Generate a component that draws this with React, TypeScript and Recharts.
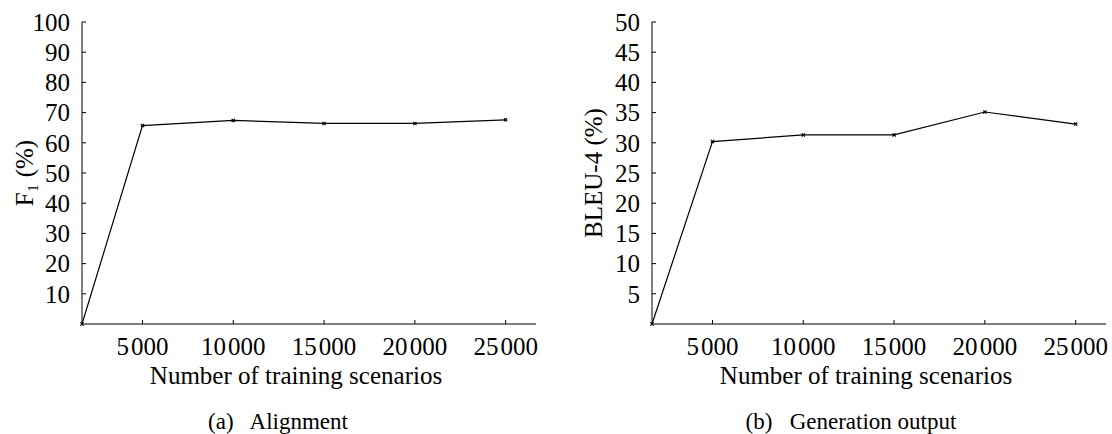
import React from 'react';
import { LineChart, Line, XAxis, YAxis } from 'recharts';

// training set sizes; first run sits right at the left end of the axis
const trainingSizes = [1670, 5000, 10000, 15000, 20000, 25000];
const alignmentF1 = [0, 65.7, 67.4, 66.4, 66.4, 67.6];
const generationBleu4 = [0, 30.2, 31.3, 31.3, 35.1, 33.1];

const xTicks = [5000, 10000, 15000, 20000, 25000];
const f1Ticks = [10, 20, 30, 40, 50, 60, 70, 80, 90, 100];
const bleuTicks = [5, 10, 15, 20, 25, 30, 35, 40, 45, 50];
const xDomain = [1670, 26670];

const FONT = '"Liberation Serif", "Times New Roman", serif';

const alignmentData = trainingSizes.map((n, i) => ({ n, value: alignmentF1[i] }));
const generationData = trainingSizes.map((n, i) => ({ n, value: generationBleu4[i] }));

// hair-space thousands separator like siunitx
const fmtThousands = (v: number) => String(v).replace(/\B(?=(\d{3})+(?!\d))/g, '\u200A');

const Cross = (props: any) => {
  const { cx, cy } = props;
  if (cx == null || cy == null) return null;
  const s = 1.6;
  return (
    <path
      d={`M${cx - s},${cy - s}L${cx + s},${cy + s}M${cx - s},${cy + s}L${cx + s},${cy - s}`}
      stroke="#000"
      strokeWidth={1.2}
    />
  );
};

const tickStyle = { fontSize: 25, fill: '#000', fontFamily: FONT };
const axisLine = { stroke: '#000', strokeWidth: 1 };

interface PanelProps {
  data: { n: number; value: number }[];
  yMax: number;
  yTicks: number[];
  yLabel: string;
  yAxisWidth: number;
  yLabelDx: number;
  rightMargin: number;
}

function Panel({ data, yMax, yTicks, yLabel, yAxisWidth, yLabelDx, rightMargin }: PanelProps) {
  return (
    <LineChart
      width={556}
      height={434}
      data={data}
      margin={{ top: 22, right: rightMargin, bottom: 50, left: 0 }}
    >
      <XAxis
        dataKey="n"
        type="number"
        domain={xDomain}
        ticks={xTicks}
        interval={0}
        tickFormatter={fmtThousands}
        tick={tickStyle}
        tickSize={-4}
        tickMargin={17}
        axisLine={axisLine}
        tickLine={{ stroke: '#000' }}
        height={60}
        label={{
          value: 'Number of training scenarios',
          position: 'insideBottom',
          offset: 0,
          dx: -13,
          fontSize: 25,
          fill: '#000',
          fontFamily: FONT,
        }}
      />
      <YAxis
        type="number"
        domain={[0, yMax]}
        ticks={yTicks}
        interval={0}
        tick={tickStyle}
        tickSize={-4}
        tickMargin={16}
        axisLine={axisLine}
        tickLine={{ stroke: '#000' }}
        width={yAxisWidth}
        label={{
          value: yLabel,
          angle: -90,
          position: 'center',
          dx: yLabelDx,
          fontSize: 25,
          fill: '#000',
          fontFamily: FONT,
        }}
      />
      <Line
        type="linear"
        dataKey="value"
        stroke="#000"
        strokeWidth={1.2}
        dot={(p: any) => <Cross key={p.index} {...p} />}
        activeDot={false}
        isAnimationActive={false}
      />
    </LineChart>
  );
}

const captionStyle: React.CSSProperties = {
  position: 'absolute',
  top: 410,
  width: 556,
  textAlign: 'center',
  fontFamily: FONT,
  fontSize: 23,
  lineHeight: '23px',
  whiteSpace: 'pre',
  color: '#000',
};

export default function App() {
  return (
    <div style={{ position: 'absolute', left: 0, top: 0, width: 1112, height: 434, background: '#fff' }}>
      <div style={{ position: 'absolute', left: 0, top: 0 }}>
        <Panel
          data={alignmentData}
          yMax={100}
          yTicks={f1Ticks}
          yLabel="F₁ (%)"
          yAxisWidth={82}
          yLabelDx={-17}
          rightMargin={20}
        />
      </div>
      <div style={{ position: 'absolute', left: 556, top: 0 }}>
        <Panel
          data={generationData}
          yMax={50}
          yTicks={bleuTicks}
          yLabel="BLEU-4 (%)"
          yAxisWidth={96}
          yLabelDx={-11}
          rightMargin={6}
        />
      </div>
      <div style={{ ...captionStyle, left: 0 }}>{'(a)\u2002 Alignment'}</div>
      <div style={{ ...captionStyle, left: 556 + 17 }}>{'(b)\u2002 Generation output'}</div>
    </div>
  );
}
